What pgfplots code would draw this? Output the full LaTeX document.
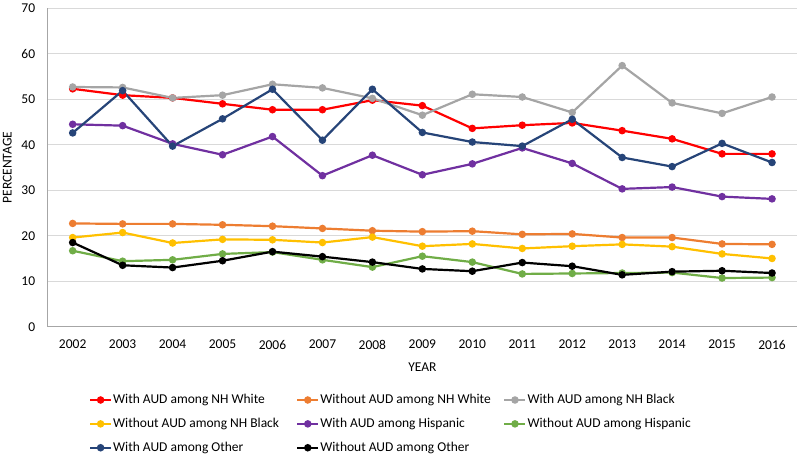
\documentclass[border=0pt]{standalone}
\usepackage{fontspec}
\setmainfont{Carlito}
\usepackage{pgfplots}
\usepackage{pgfplotstable}
\pgfplotsset{compat=1.18}

\definecolor{cRed}{HTML}{FF0000}
\definecolor{cOrange}{HTML}{ED7D31}
\definecolor{cGray}{HTML}{A5A5A5}
\definecolor{cYellow}{HTML}{FFC000}
\definecolor{cPurple}{HTML}{7030A0}
\definecolor{cGreen}{HTML}{70AD47}
\definecolor{cNavy}{HTML}{264478}
\definecolor{cGrid}{HTML}{D9D9D9}
\definecolor{cAxis}{HTML}{A6A6A6}

\pgfplotstableread{
year WW   WoW  WB   WoB  WH   WoH  WO   WoO
2002 52.3 22.7 52.7 19.6 44.5 16.7 42.6 18.5
2003 50.9 22.6 52.6 20.7 44.2 14.4 51.9 13.5
2004 50.3 22.6 50.3 18.4 40.2 14.7 39.7 13.0
2005 49.0 22.4 50.9 19.2 37.8 16.0 45.7 14.5
2006 47.7 22.1 53.3 19.1 41.8 16.4 52.2 16.5
2007 47.7 21.6 52.5 18.5 33.2 14.7 41.0 15.4
2008 49.8 21.1 50.2 19.7 37.7 13.1 52.2 14.2
2009 48.6 20.9 46.5 17.7 33.4 15.5 42.7 12.7
2010 43.6 21.0 51.1 18.2 35.8 14.2 40.6 12.2
2011 44.3 20.3 50.5 17.2 39.3 11.6 39.7 14.1
2012 44.8 20.4 47.1 17.7 35.9 11.7 45.6 13.3
2013 43.1 19.6 57.4 18.1 30.3 11.8 37.2 11.4
2014 41.3 19.6 49.2 17.6 30.7 11.9 35.2 12.1
2015 38.0 18.2 46.9 16.0 28.6 10.7 40.3 12.3
2016 38.0 18.1 50.5 15.0 28.1 10.8 36.1 11.8
}\datatable

\newcommand{\fnt}{\fontsize{13.5}{16}\selectfont}
\newcommand{\legtxt}[1]{\makebox[182pt][l]{#1}}

\begin{document}
\begin{tikzpicture}
\begin{axis}[
  scale only axis,
  width=749.3pt, height=318.4pt,
  xmin=2001.5, xmax=2016.5, ymin=0, ymax=70,
  xtick={2002,2003,...,2016},
  ytick={0,10,...,70},
  /pgf/number format/1000 sep={},
  /pgf/number format/assume math mode=true,
  axis x line*=bottom, axis y line*=left,
  axis line style={-, draw=cAxis, line width=0.9pt},
  ymajorgrids,
  grid style={draw=cGrid, line width=0.9pt},
  major tick length=0pt,
  tick label style={font=\fnt},
  yticklabel style={anchor=east, xshift=-9pt},
  xticklabel style={anchor=north, yshift=-10pt},
  xlabel={YEAR}, ylabel={PERCENTAGE},
  label style={font=\fnt},
  xlabel style={at={(axis description cs:0.5,0)}, anchor=center, yshift=-40.3pt},
  ylabel style={at={(axis description cs:-0.0539,0.5)}, anchor=center},
  legend columns=3,
  legend cell align=left,
  legend style={
    at={(axis description cs:0.0551,-0.21)}, anchor=north west,
    draw=none, fill=none, inner sep=0pt, outer sep=0pt,
    font=\fnt, row sep=11pt,
    /tikz/every even column/.append style={column sep=0pt},
    nodes={inner sep=1pt}
  },
  legend image code/.code={
    \draw[#1, mark=none] (0pt,0pt) -- (21pt,0pt);
    \draw[#1, only marks] plot coordinates {(10.5pt,0pt)};
  },
  every axis plot/.append style={line width=2.2pt, mark=*, mark size=2.6pt, mark options={solid}},
]
\addplot[color=cRed] table[x=year, y=WW] {\datatable};
\addlegendentry{\legtxt{With AUD among NH White}}
\addplot[color=cOrange] table[x=year, y=WoW] {\datatable};
\addlegendentry{\legtxt{Without AUD among NH White}}
\addplot[color=cGray] table[x=year, y=WB] {\datatable};
\addlegendentry{\legtxt{With AUD among NH Black}}
\addplot[color=cYellow] table[x=year, y=WoB] {\datatable};
\addlegendentry{\legtxt{Without AUD among NH Black}}
\addplot[color=cPurple] table[x=year, y=WH] {\datatable};
\addlegendentry{\legtxt{With AUD among Hispanic}}
\addplot[color=cGreen] table[x=year, y=WoH] {\datatable};
\addlegendentry{\legtxt{Without AUD among Hispanic}}
\addplot[color=cNavy] table[x=year, y=WO] {\datatable};
\addlegendentry{\legtxt{With AUD among Other}}
\addplot[color=black] table[x=year, y=WoO] {\datatable};
\addlegendentry{\legtxt{Without AUD among Other}}
\end{axis}
\pgfresetboundingbox
\useasboundingbox ([xshift=-47.7pt,yshift=-129.3pt]current axis.south west) rectangle ([xshift=3pt,yshift=8.3pt]current axis.north east);
\end{tikzpicture}
\end{document}
